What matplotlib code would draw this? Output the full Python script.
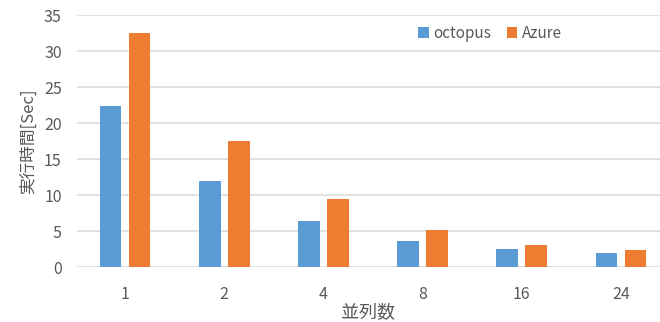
import numpy as np
import matplotlib.pyplot as plt

plt.rcParams['font.family'] = ['Noto Sans CJK JP', 'DejaVu Sans']

# データ
heiretsu = ['1', '2', '4', '8', '16', '24']
octopus = [22.3, 11.9, 6.4, 3.6, 2.5, 1.9]
azure = [32.5, 17.5, 9.4, 5.2, 3.1, 2.3]

blue = '#5B9BD5'
orange = '#ED7D31'
gray = '#595959'

fig = plt.figure(figsize=(6.6, 3.22), dpi=100)
ax = fig.add_axes([77 / 660, 55 / 322, 583 / 660, 252 / 322])

x = np.arange(len(heiretsu))
w = 0.22
ax.bar(x - 0.146, octopus, width=w, color=blue, label='octopus', zorder=3)
ax.bar(x + 0.146, azure, width=w, color=orange, label='Azure', zorder=3)

ax.set_xlim(-0.484, 5.393)
ax.set_ylim(0, 35)
ax.set_yticks(range(0, 36, 5))
ax.set_xticks(x)
ax.set_xticklabels(heiretsu)
ax.grid(axis='y', color='#d9d9d9', linewidth=1.1, zorder=0)
for s in ax.spines.values():
    s.set_visible(False)
ax.tick_params(length=0, labelsize=11.5, labelcolor=gray)
ax.tick_params(axis='x', pad=14)
ax.tick_params(axis='y', pad=11)

ax.set_ylabel('実行時間[Sec]', fontsize=12, color=gray, labelpad=5)
ax.set_xlabel('並列数', fontsize=13, color=gray, labelpad=0)

fig.legend(loc='center', bbox_to_anchor=(490 / 660, 1 - 33 / 322), ncol=2,
           frameon=False, fontsize=11, handlelength=0.7, handleheight=0.7,
           handletextpad=0.3, columnspacing=1.0, labelcolor=gray)

fig.savefig('out.png', dpi=100)
